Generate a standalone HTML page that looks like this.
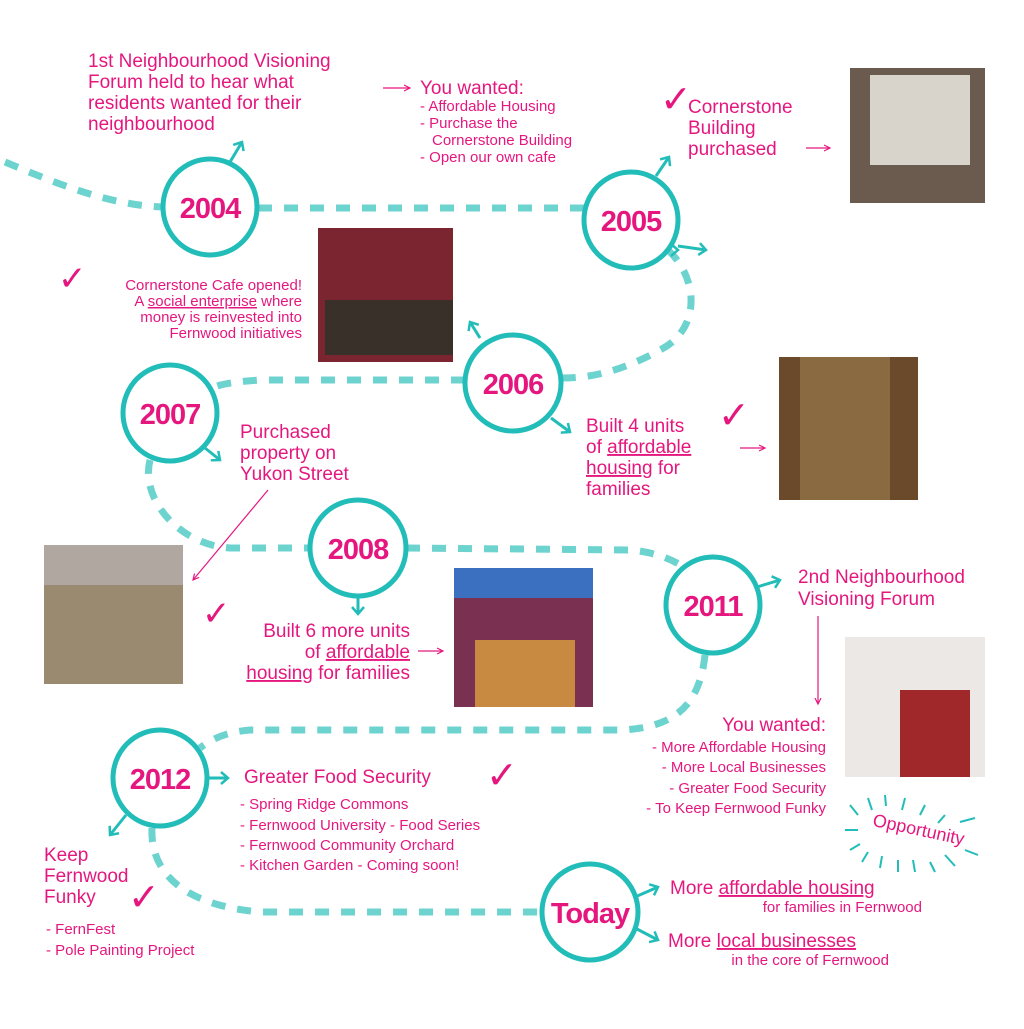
<!DOCTYPE html>
<html><head><meta charset="utf-8"><style>
html,body{margin:0;padding:0;background:#fff}
svg text{font-family:"Liberation Sans",sans-serif;fill:#e5177f}
.h{font-size:19px}
.s{font-size:15px}
.xs{font-size:12.5px}
.y{font-size:29px;font-weight:bold;letter-spacing:-1px}
.ck{font-family:"DejaVu Sans",sans-serif !important;font-weight:bold}
</style></head><body>
<svg width="1024" height="1024" viewBox="0 0 1024 1024" xmlns="http://www.w3.org/2000/svg">
<defs>
<marker id="ta" markerUnits="userSpaceOnUse" markerWidth="12" markerHeight="14" refX="8" refY="7" orient="auto"><path d="M1,1 L8,7 L1,13" fill="none" stroke="#22bdb8" stroke-width="2.5"/></marker>
<marker id="pa" markerUnits="userSpaceOnUse" markerWidth="8" markerHeight="8" refX="6" refY="4" orient="auto"><path d="M0,1 L6,4 L0,7" fill="none" stroke="#e5177f" stroke-width="1.2"/></marker>
</defs>
<g fill="none" stroke="#6dd3cf" stroke-width="7" stroke-dasharray="14 12">
<path d="M5,162 C60,185 110,205 162,207"/>
<path d="M258,208 L584,208"/>
<path d="M668,250 C700,280 700,330 660,350 C620,372 590,378 562,378"/>
<path d="M465,380 L260,380 C230,382 215,385 210,390"/>
<path d="M150,460 C140,500 180,545 230,548 L310,548"/>
<path d="M406,548 L630,550 C655,552 675,560 688,570"/>
<path d="M705,655 C700,700 680,728 620,730 L250,730 C225,732 210,740 200,748"/>
<path d="M152,828 C150,870 180,905 260,912 L542,912"/>
</g>
<g fill="none" stroke="#22bdb8" stroke-width="5">
<ellipse cx="210" cy="207" rx="47" ry="48"/>
<ellipse cx="631" cy="220" rx="47" ry="48"/>
<ellipse cx="513" cy="383" rx="48" ry="48"/>
<ellipse cx="170" cy="413" rx="47" ry="48"/>
<ellipse cx="358" cy="548" rx="48" ry="48"/>
<ellipse cx="713" cy="605" rx="47" ry="48"/>
<ellipse cx="160" cy="778" rx="47" ry="48"/>
<ellipse cx="590" cy="912" rx="48" ry="48"/>
</g>
<g fill="none" stroke="#22bdb8" stroke-width="3" marker-end="url(#ta)">
<path d="M230,162 L242,142"/>
<path d="M656,176 L669,157"/>
<path d="M678,250 L678,250"/>
<path d="M480,338 L470,322"/>
<path d="M551,418 L570,432"/>
<path d="M205,448 L220,460"/>
<path d="M358,596 L358,614"/>
<path d="M757,587 L780,580"/>
<path d="M207,778 L228,778"/>
<path d="M126,815 L110,835"/>
<path d="M635,897 L658,887"/>
<path d="M635,928 L658,940"/>
</g>
<path d="M678,246 L706,250" fill="none" stroke="#22bdb8" stroke-width="3" marker-end="url(#ta)"/>
<g fill="none" stroke="#e5177f" stroke-width="1.2" marker-end="url(#pa)">
<path d="M383,88 L410,88"/>
<path d="M806,148 L830,148"/>
<path d="M740,448 L765,448"/>
<path d="M268,490 L193,580"/>
<path d="M418,651 L443,651"/>
<path d="M818,616 L818,704"/>
</g>
<text class="y" x="210" y="218" text-anchor="middle">2004</text>
<text class="y" x="631" y="231" text-anchor="middle">2005</text>
<text class="y" x="513" y="394" text-anchor="middle">2006</text>
<text class="y" x="170" y="424" text-anchor="middle">2007</text>
<text class="y" x="358" y="559" text-anchor="middle">2008</text>
<text class="y" x="713" y="616" text-anchor="middle">2011</text>
<text class="y" x="160" y="789" text-anchor="middle">2012</text>
<text class="y" x="590" y="923" text-anchor="middle">Today</text>
<g class="h">
<text x="88" y="67">1st Neighbourhood Visioning</text>
<text x="88" y="88">Forum held to hear what</text>
<text x="88" y="109">residents wanted for their</text>
<text x="88" y="130">neighbourhood</text>
<text x="420" y="94">You wanted:</text>
<text x="688" y="113">Cornerstone</text>
<text x="688" y="134">Building</text>
<text x="688" y="155">purchased</text>
<text x="240" y="438">Purchased</text>
<text x="240" y="459">property on</text>
<text x="240" y="480">Yukon Street</text>
<text x="586" y="432">Built 4 units</text>
<text x="586" y="453">of <tspan text-decoration="underline">affordable</tspan></text>
<text x="586" y="474"><tspan text-decoration="underline">housing</tspan> for</text>
<text x="586" y="495">families</text>
<text x="410" y="637" text-anchor="end">Built 6 more units</text>
<text x="410" y="658" text-anchor="end">of <tspan text-decoration="underline">affordable</tspan></text>
<text x="410" y="679" text-anchor="end"><tspan text-decoration="underline">housing</tspan> for families</text>
<text x="798" y="583">2nd Neighbourhood</text>
<text x="798" y="605">Visioning Forum</text>
<text x="826" y="731" text-anchor="end">You wanted:</text>
<text x="244" y="783">Greater Food Security</text>
<text x="44" y="861">Keep</text>
<text x="44" y="882">Fernwood</text>
<text x="44" y="903">Funky</text>
<text x="670" y="894">More <tspan text-decoration="underline">affordable housing</tspan></text>
<text x="668" y="947">More <tspan text-decoration="underline">local businesses</tspan></text>
</g>
<g class="s">
<text x="420" y="111">- Affordable Housing</text>
<text x="420" y="128">- Purchase the</text>
<text x="432" y="145">Cornerstone Building</text>
<text x="420" y="162">- Open our own cafe</text>
<text x="302" y="290" text-anchor="end">Cornerstone Cafe opened!</text>
<text x="302" y="306" text-anchor="end">A <tspan text-decoration="underline">social enterprise</tspan> where</text>
<text x="302" y="322" text-anchor="end">money is reinvested into</text>
<text x="302" y="338" text-anchor="end">Fernwood initiatives</text>
<text x="826" y="752" text-anchor="end">- More Affordable Housing</text>
<text x="826" y="772" text-anchor="end">- More Local Businesses</text>
<text x="826" y="793" text-anchor="end">- Greater Food Security</text>
<text x="826" y="813" text-anchor="end">- To Keep Fernwood Funky</text>
<text x="240" y="809">- Spring Ridge Commons</text>
<text x="240" y="830">- Fernwood University - Food Series</text>
<text x="240" y="850">- Fernwood Community Orchard</text>
<text x="240" y="870">- Kitchen Garden - Coming soon!</text>
<text x="46" y="934">- FernFest</text>
<text x="46" y="955">- Pole Painting Project</text>
<text x="922" y="912" text-anchor="end">for families in Fernwood</text>
<text x="889" y="965" text-anchor="end">in the core of Fernwood</text>
<text x="870" y="836" transform="rotate(12 920 840)" style="font-size:18px">Opportunity</text>
</g>
<g class="ck">
<text class="ck" x="660" y="112" font-size="38">✓</text>
<text class="ck" x="58" y="290" font-size="34">✓</text>
<text class="ck" x="718" y="428" font-size="38">✓</text>
<text class="ck" x="202" y="625" font-size="34">✓</text>
<text class="ck" x="486" y="788" font-size="38">✓</text>
<text class="ck" x="128" y="910" font-size="38">✓</text>
</g>
<g stroke="#22bdb8" stroke-width="2">
<path d="M850,805 L858,815 M868,798 L872,810 M885,795 L886,806 M905,798 L902,810 M925,805 L920,815 M945,815 L938,823 M960,822 L975,818 M845,830 L858,830 M850,850 L860,844 M862,862 L868,852 M880,868 L882,856 M898,872 L898,860 M915,872 L913,860 M935,872 L930,862 M965,850 L978,855 M945,855 L955,866"/>
</g>
<rect x="850" y="68" width="135" height="135" fill="#6b5a4e"/>
<rect x="870" y="75" width="100" height="90" fill="#d8d4cc"/>
<rect x="318" y="228" width="135" height="134" fill="#7a2530"/>
<rect x="325" y="300" width="128" height="55" fill="#3a302a"/>
<rect x="779" y="357" width="139" height="143" fill="#6a4a2a"/>
<rect x="800" y="357" width="90" height="143" fill="#8a6a40"/>
<rect x="44" y="545" width="139" height="139" fill="#9a8a70"/>
<rect x="44" y="545" width="139" height="40" fill="#b0a8a0"/>
<rect x="454" y="568" width="139" height="139" fill="#7a3050"/>
<rect x="454" y="568" width="139" height="30" fill="#3b6fc0"/>
<rect x="475" y="640" width="100" height="67" fill="#c88a40"/>
<rect x="845" y="637" width="140" height="140" fill="#ece8e6"/>
<rect x="900" y="690" width="70" height="87" fill="#a0282a"/>
</svg>
</body></html>
